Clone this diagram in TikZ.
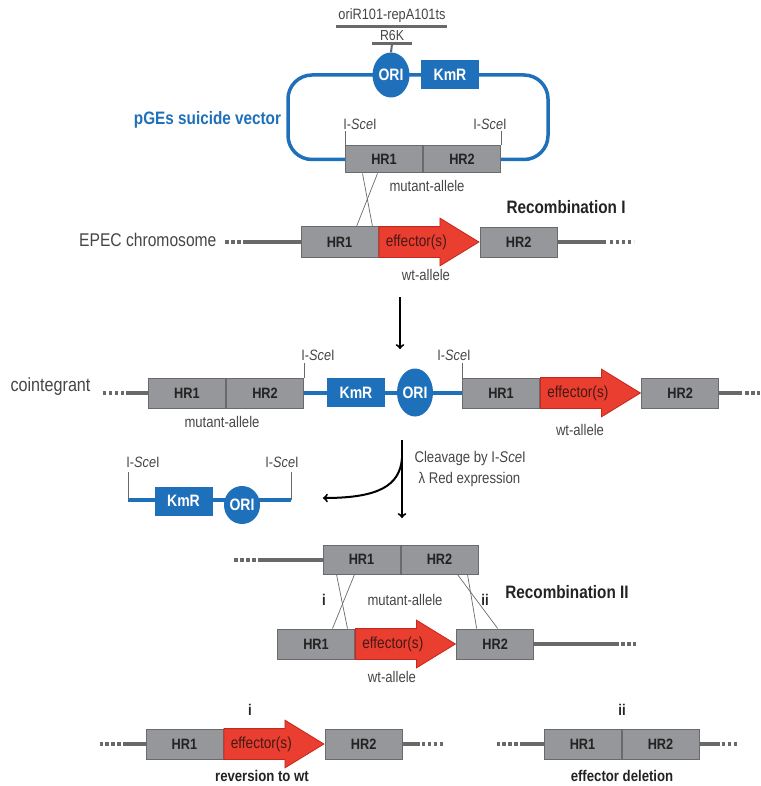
\documentclass[tikz,border=0pt]{standalone}
\usepackage{fontspec}
\setmainfont{Liberation Sans}[FakeStretch=0.85]
\usepackage{tikz}
\usetikzlibrary{arrows,backgrounds,calc,positioning,shapes.geometric,shapes.arrows}
\definecolor{boxgray}{RGB}{150,151,154}
\definecolor{boxline}{RGB}{105,106,108}
\definecolor{boxtext}{RGB}{35,35,35}
\definecolor{effred}{RGB}{233,62,48}
\definecolor{effline}{RGB}{196,40,30}
\definecolor{effdark}{RGB}{70,25,20}
\definecolor{vecblue}{RGB}{30,112,186}
\definecolor{chromgray}{RGB}{105,105,105}
\definecolor{labgray}{RGB}{70,70,70}
\newcommand{\fsz}[1]{\fontsize{#1}{#1}\selectfont}
\newcommand{\sce}{I-\textit{Sce}I}
\tikzset{
  hrbox/.style={draw=boxline, fill=boxgray, line width=1pt, minimum width=77pt, minimum height=29pt, inner sep=0pt, text=boxtext, font=\fsz{15}\bfseries},
  effarrow/.style={single arrow, draw=effline, fill=effred, line width=0.8pt, minimum height=100pt, text height=11pt, text depth=3pt, inner xsep=0pt, inner ysep=8pt, single arrow head extend=8.5pt, single arrow tip angle=63, text=effdark, font=\fsz{16}},
  kmrbox/.style={fill=vecblue, minimum width=58pt, minimum height=29pt, inner sep=0pt, text=white, font=\fsz{16.5}\bfseries},
  oribox/.style={ellipse, fill=vecblue, minimum width=37pt, minimum height=45pt, inner sep=0pt, text=white, font=\fsz{16.5}\bfseries},
  chrom/.style={draw=chromgray, line width=4pt},
  chromdots/.style={draw=chromgray, line width=4pt, dash pattern=on 3.5pt off 2.5pt},
  vecline/.style={draw=vecblue, line width=3.5pt},
  sitetick/.style={draw=chromgray, line width=1pt},
  xover/.style={draw=chromgray, line width=0.7pt},
  flow/.style={draw=black, line width=2pt, ->},
  sitelab/.style={text=labgray, font=\fsz{15}},
  allele/.style={text=labgray, font=\fsz{15.4}},
  steplab/.style={text=boxtext, font=\fsz{18}\bfseries},
  outlab/.style={text=boxtext, font=\fsz{15.5}\bfseries},
}
\begin{document}
\begin{tikzpicture}[x=1pt,y=-1pt]
\useasboundingbox (0,0) rectangle (760,786);

% suicide vector
\node[text=labgray, font=\fsz{15}] (orilab) at (392,16) {oriR101-repA101ts};
\node[text=labgray, font=\fsz{14.5}] (r6klab) at (392,36) {R6K};
\draw[chromgray, line width=3pt] (336,27) -- (447,27);
\draw[chromgray, line width=3pt] (372,44) -- (412,44);
\coordinate (r6kbar) at (392,44);
\node[oribox] (vori) at (391,75) {ORI};
\node[kmrbox] (vkmr) at (450,74.5) {KmR};
\draw[chromgray, line width=2pt] (r6kbar) -- (vori.north);
\node[hrbox, minimum height=27pt] (vhra) at (384,159.5) {HR1};
\node[hrbox, minimum height=27pt, right=0pt of vhra] (vhrb) {HR2};
\draw[sitetick] (vhra.north west) -- ++(0,-14);
\draw[sitetick] (vhrb.north east) -- ++(0,-14);
\node[sitelab] (vscea) at (360,124) {\sce};
\node[sitelab] (vsceb) at (490,124) {\sce};
\node[text=vecblue, font=\fsz{18}\bfseries] (vname) at (207.5,120) {pGEs suicide vector};
\node[allele] (vmut) at (427,186) {mutant-allele};

% EPEC chromosome
\node[hrbox, minimum height=30pt] (ehra) at (339.5,242) {HR1};
\node[effarrow, right=0pt of ehra] (eeff) {effector(s)};
\node[hrbox, minimum height=30pt, right=0pt of eeff] (ehrb) {HR2};
\node[text=labgray, font=\fsz{18.4}, anchor=east] (epec) at (220,240) {EPEC chromosome};
\node[steplab] (rec1) at (566,207) {Recombination I};
\node[allele] (ewt) at (426,275) {wt-allele};
\draw[xover] ([xshift=17.5pt]vhra.south west) -- ([xshift=72pt]ehra.north west);
\draw[xover] ([xshift=32.5pt]vhra.south west) -- ([xshift=56pt]ehra.north west);

\coordinate (a1s) at (400,297);
\coordinate (a1e) at (400,349);
\draw[flow] (a1s) -- (a1e);

% cointegrant
\node[hrbox, minimum height=30pt] (chra) at (187,393) {HR1};
\node[hrbox, minimum height=30pt, right=0pt of chra] (chrb) {HR2};
\node[kmrbox] (ckmr) at (356,392.5) {KmR};
\node[oribox, minimum width=36pt, minimum height=48pt] (cori) at (415,392.5) {ORI};
\node[hrbox, minimum height=30pt] (cwhra) at (501,393) {HR1};
\node[effarrow, right=0pt of cwhra] (ceff) {effector(s)};
\node[hrbox, minimum height=30pt, right=0pt of ceff] (cwhrb) {HR2};
\draw[sitetick] (chrb.north east) -- ++(0,-15);
\draw[sitetick] (cwhra.north west) -- ++(0,-15);
\node[sitelab] (cscea) at (318,355) {\sce};
\node[sitelab] (csceb) at (454,355) {\sce};
\node[text=labgray, font=\fsz{19}, anchor=east] (coint) at (94,387) {cointegrant};
\node[allele] (cmut) at (222,422) {mutant-allele};
\node[allele] (cwt) at (580,430) {wt-allele};

% excised vector
\coordinate (fl) at (128,500);
\coordinate (fr) at (291,500);
\node[kmrbox] (fkmr) at (183.5,501) {KmR};
\node[oribox, minimum width=36pt, minimum height=38pt] (fori) at (242,505) {ORI};
\draw[sitetick] (fl) -- ++(0,-28);
\draw[sitetick] (fr) -- ++(0,-28);
\node[sitelab] (fscea) at (143,462) {\sce};
\node[sitelab] (fsceb) at (282,462) {\sce};

\coordinate (a2s) at (402,440);
\coordinate (a2e) at (402,518);
\coordinate (a2c) at (402,458);
\coordinate (fend) at (323,498);
\draw[flow] (a2s) -- (a2e);
\draw[flow] (a2c) .. controls (400,486) and (378,498) .. (fend);
\node[text=labgray, font=\fsz{15.5}, anchor=west] (cleave) at (411,458) {Cleavage by \sce};
\node[text=labgray, font=\fsz{15.5}, anchor=west] (lred) at (415,479) {λ Red expression};

% recombination II
\node[hrbox] (rhra) at (361.5,559.5) {HR1};
\node[hrbox, right=0pt of rhra] (rhrb) {HR2};
\node[hrbox, minimum height=30pt] (whra) at (316,644) {HR1};
\node[effarrow, right=0pt of whra] (weff) {effector(s)};
\node[hrbox, minimum height=30pt, right=0pt of weff] (whrb) {HR2};
\draw[xover] ([xshift=14pt]rhra.south west) -- ([xshift=70.5pt]whra.north west);
\draw[xover] ([xshift=32pt]rhra.south west) -- ([xshift=55.5pt]whra.north west);
\draw[xover] ([xshift=57pt]rhrb.south west) -- ([xshift=41.5pt]whrb.north west);
\draw[xover] ([xshift=67pt]rhrb.south west) -- ([xshift=20.5pt]whrb.north west);
\node[outlab] (ri) at (324,600) {i};
\node[outlab] (rii) at (485,600) {ii};
\node[allele] (rmut) at (405,600) {mutant-allele};
\node[steplab] (rec2) at (567,592) {Recombination II};
\node[allele] (rwt) at (392,677) {wt-allele};

% outcomes
\node[hrbox, minimum height=30pt] (ohra) at (184.5,744) {HR1};
\node[effarrow, right=0pt of ohra] (oeff) {effector(s)};
\node[hrbox, minimum height=30pt, right=0pt of oeff] (ohrb) {HR2};
\node[outlab] (oi) at (250,710) {i};
\node[outlab] (orev) at (262,776) {reversion to wt};
\node[hrbox, minimum height=30pt] (dhra) at (582.5,744) {HR1};
\node[hrbox, minimum height=30pt, right=0pt of dhra] (dhrb) {HR2};
\node[outlab] (dii) at (622,710) {ii};
\node[outlab] (ddel) at (622,776) {effector deletion};

\begin{scope}[on background layer]
\draw[vecline, rounded corners=24pt] (vhra.west) -- (288,159.5) -- (288,75) -- (548,75) -- (548,159.5) -- (vhrb.east);
\draw[chrom] (ehra.west) -- ++(-58,0);
\draw[chromdots] (ehra.west) ++(-60,0) -- ++(-18,0);
\draw[chrom] (ehrb.east) -- ++(48,0);
\draw[chromdots] (ehrb.east) ++(52,0) -- ++(24,0);
\draw[vecline] (chrb.east) -- (cwhra.west);
\draw[chrom] (chra.west) -- ++(-22,0);
\draw[chromdots] (chra.west) ++(-24,0) -- ++(-24,0);
\draw[chrom] (cwhrb.east) -- ++(23,0);
\draw[chromdots] (cwhrb.east) ++(26,0) -- ++(15,0);
\draw[vecline] (fl) -- (fr);
\draw[chrom] (rhra.west) -- ++(-65,0);
\draw[chromdots] (rhra.west) ++(-67,0) -- ++(-23,0);
\draw[chrom] (whrb.east) -- ++(85,0);
\draw[chromdots] (whrb.east) ++(87,0) -- ++(15,0);
\draw[chrom] (ohra.west) -- ++(-23,0);
\draw[chromdots] (ohra.west) ++(-25,0) -- ++(-21,0);
\draw[chrom] (ohrb.east) -- ++(17,0);
\draw[chromdots] (ohrb.east) ++(19,0) -- ++(22,0);
\draw[chrom] (dhra.west) -- ++(-24,0);
\draw[chromdots] (dhra.west) ++(-26,0) -- ++(-21,0);
\draw[chrom] (dhrb.east) -- ++(20,0);
\draw[chromdots] (dhrb.east) ++(22,0) -- ++(18,0);
\end{scope}
\end{tikzpicture}
\end{document}
